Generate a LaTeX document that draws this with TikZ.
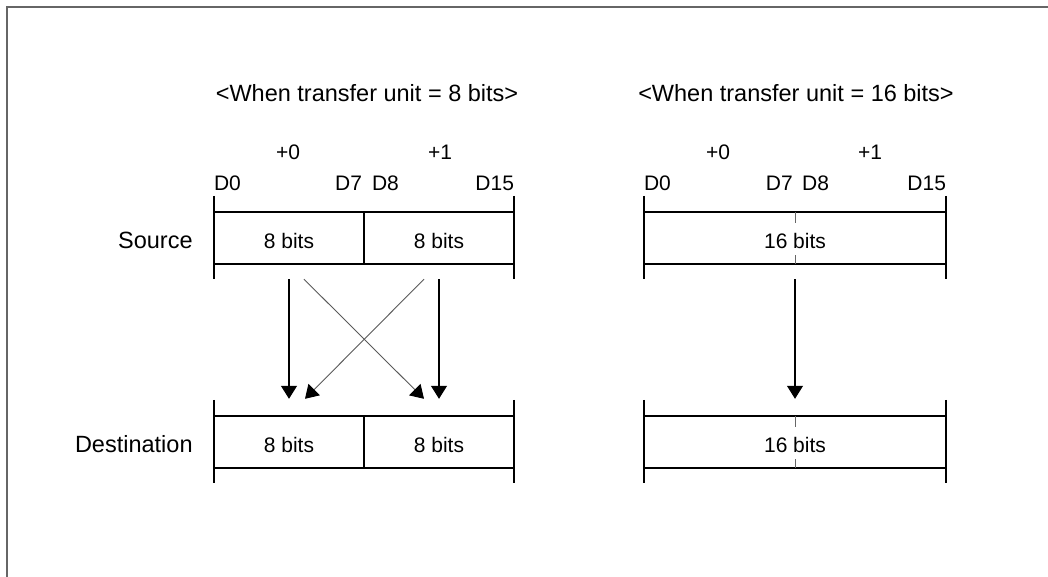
\documentclass[tikz,border=0pt]{standalone}
\usepackage{fontspec}
\setmainfont{Liberation Sans}
\usetikzlibrary{arrows.meta}
\begin{document}
\begin{tikzpicture}[x=1pt,y=-1pt,
    cell/.style={minimum width=150pt, minimum height=52pt, inner sep=0pt, text height=21pt, text depth=0pt,
        font=\fontsize{21}{25}\selectfont},
    wide/.style={cell, minimum width=302pt},
    lbl/.style={inner sep=0pt, font=\fontsize{21}{25}\selectfont},
    big/.style={inner sep=0pt, font=\fontsize{23.5}{28}\selectfont},
    edge/.style={line width=1.8pt},
    arr/.style={line width=1.1pt, -{Triangle[width=16pt,length=13pt,black]}},
    cross/.style={arr, line width=0.9pt, draw=black!65}]
    \useasboundingbox (0,0) rectangle (1048,577);
    \draw[line width=2pt, black!60] (1048,7) -- (7,7) -- (7,577);

    % transfer unit = 8 bits
    \node[big] (t8) at (367,93) {<When transfer unit = 8 bits>};
    \node[lbl] (p0) at (288,152) {+0};
    \node[lbl] (p1) at (440,152) {+1};
    \node[cell] (s0) at (289,238) {8 bits};
    \node[cell] (s1) at (439,238) {8 bits};
    \node[cell] (d0) at (289,442) {8 bits};
    \node[cell] (d1) at (439,442) {8 bits};
    \node[lbl, anchor=base west] (lD0) at ([yshift=21pt]s0.north west) {D0};
    \node[lbl, anchor=base east] (lD7) at ([xshift=-2pt,yshift=21pt]s0.north east) {D7};
    \node[lbl, anchor=base west] (lD8) at ([xshift=8pt,yshift=21pt]s1.north west) {D8};
    \node[lbl, anchor=base east] (lD15) at ([yshift=21pt]s1.north east) {D15};
    \node[big, anchor=east] (src) at ([xshift=-21pt,yshift=-2pt]s0.west) {Source};
    \node[big, anchor=east] (dst) at ([xshift=-21pt,yshift=-2pt]d0.west) {Destination};
    \foreach \a/\b in {s0/s1,d0/d1} {
        \draw[edge] (\a.north west) -- (\b.north east) (\a.south west) -- (\b.south east)
            (\a.north east) -- (\a.south east);
        \draw[edge] ([yshift=16pt]\a.north west) -- ([yshift=-15pt]\a.south west);
        \draw[edge] ([yshift=16pt]\b.north east) -- ([yshift=-15pt]\b.south east);
    }
    \draw[arr] ([yshift=-15pt]s0.south) -- ([yshift=17pt]d0.north);
    \draw[arr] ([yshift=-15pt]s1.south) -- ([yshift=17pt]d1.north);
    \draw[cross] ([xshift=15pt,yshift=-15pt]s0.south) -- ([xshift=-15pt,yshift=17pt]d1.north);
    \draw[cross] ([xshift=-15pt,yshift=-15pt]s1.south) -- ([xshift=16pt,yshift=17pt]d0.north);

    % transfer unit = 16 bits
    \node[big] (t16) at (796,93) {<When transfer unit = 16 bits>};
    \node[lbl] (q0) at (718,152) {+0};
    \node[lbl] (q1) at (870,152) {+1};
    \node[wide] (w0) at (795,238) {16 bits};
    \node[wide] (w1) at (795,442) {16 bits};
    \node[lbl, anchor=base west] (rD0) at ([yshift=21pt]w0.north west) {D0};
    \node[lbl, anchor=base east] (rD7) at ([xshift=-2pt,yshift=21pt]w0.north) {D7};
    \node[lbl, anchor=base west] (rD8) at ([xshift=7pt,yshift=21pt]w0.north) {D8};
    \node[lbl, anchor=base east] (rD15) at ([yshift=21pt]w0.north east) {D15};
    \foreach \a in {w0,w1} {
        \draw[edge] (\a.north west) -- (\a.north east) (\a.south west) -- (\a.south east);
        \draw[edge] ([yshift=16pt]\a.north west) -- ([yshift=-15pt]\a.south west);
        \draw[edge] ([yshift=16pt]\a.north east) -- ([yshift=-15pt]\a.south east);
        \draw[line width=0.8pt, black!60] (\a.north) -- ++(0,11) (\a.south) -- ++(0,-9);
    }
    \draw[arr] ([yshift=-15pt]w0.south) -- ([yshift=17pt]w1.north);
\end{tikzpicture}
\end{document}
